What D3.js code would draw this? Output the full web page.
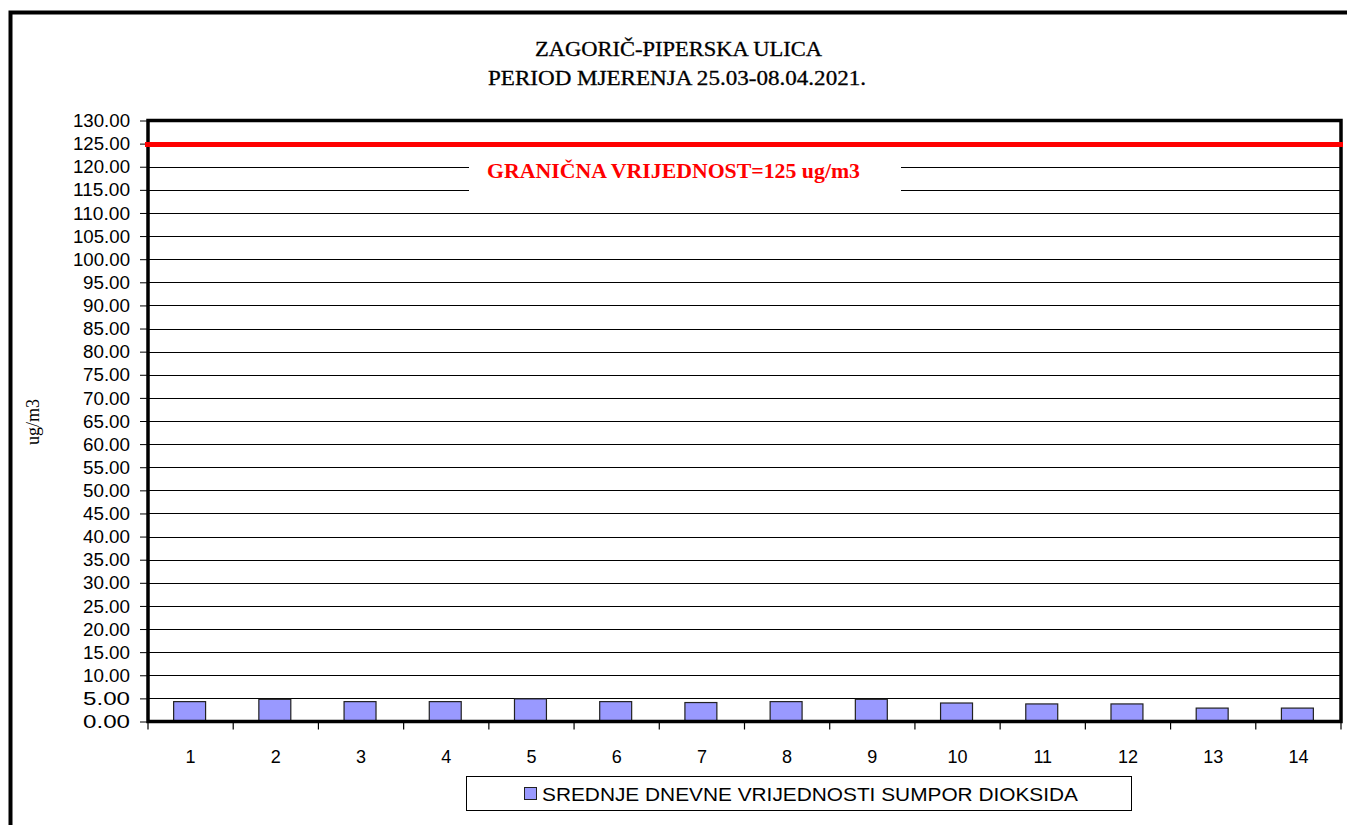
<!DOCTYPE html>
<html><head><meta charset="utf-8">
<script src="https://cdn.jsdelivr.net/npm/d3@7"></script>
<style>body{margin:0;background:#fff;overflow:hidden}</style>
</head><body>
<svg id="c" width="1347" height="825"></svg>
<script>
const categories = ["1","2","3","4","5","6","7","8","9","10","11","12","13","14"];
const values = [4.3, 4.8, 4.3, 4.3, 4.9, 4.3, 4.1, 4.3, 4.8, 4.0, 3.8, 3.8, 2.9, 2.9];
const yTicks = d3.range(0, 130.01, 5);
const limitValue = 125;
const titleLines = ["ZAGORIČ-PIPERSKA ULICA", "PERIOD MJERENJA 25.03-08.04.2021."];
const limitLabel = "GRANIČNA VRIJEDNOST=125 ug/m3";
const seriesName = "SREDNJE DNEVNE VRIJEDNOSTI SUMPOR DIOKSIDA";
const yTitle = "ug/m3";

const svg = d3.select("#c");
const L = 148, R = 1341, T = 120.5, B = 721.5;
const x = d3.scaleBand().domain(categories).range([L, R]);
const y = d3.scaleLinear().domain([0, 130]).range([B, T]);

// outer frame
svg.append("rect").attr("x", 10.5).attr("y", 12.5).attr("width", 1400).attr("height", 900)
  .attr("fill", "none").attr("stroke", "#000").attr("stroke-width", 4);

// title
svg.selectAll("text.title").data(titleLines).enter().append("text")
  .attr("x", (d,i)=> i===0 ? 678.5 : 677).attr("y", (d,i)=> 56 + i*29)
  .attr("text-anchor", "middle").attr("font-family", "Liberation Serif, serif")
  .attr("font-size", 20).attr("stroke", "#000").attr("stroke-width", 0.3)
  .attr("textLength", (d,i)=> i===0 ? 287 : 378)
  .attr("lengthAdjust", "spacingAndGlyphs").text(d=>d);

// gridlines
svg.append("g").selectAll("line").data(yTicks.filter(t=>t>0 && t<130)).enter().append("line")
  .attr("x1", L).attr("x2", R).attr("y1", d=>Math.round(y(d))+0.5).attr("y2", d=>Math.round(y(d))+0.5)
  .attr("stroke", "#000").attr("stroke-width", 1);

// y axis
const yAxis = d3.axisLeft(y).tickValues(yTicks).tickFormat(d3.format(".2f")).tickSize(8).tickPadding(10);
const gy = svg.append("g").attr("transform", `translate(${L},0)`).call(yAxis);
gy.select(".domain").remove();
gy.selectAll(".tick line").attr("stroke", "#000");
gy.selectAll(".tick text").attr("font-family", "Liberation Sans, sans-serif").attr("font-size", 18)
  .attr("fill", "#000").attr("dy", "0.34em");
gy.selectAll(".tick").each(function(d){
  d3.select(this).select("text")
    .attr("textLength", d>=100 ? 57 : 47).attr("lengthAdjust","spacingAndGlyphs");
});

// x axis
const xAxis = d3.axisBottom(x).tickSize(0).tickPadding(29);
const gx = svg.append("g").attr("transform", `translate(0,${B})`).call(xAxis);
gx.select(".domain").remove();
gx.selectAll(".tick text").attr("font-family", "Liberation Sans, sans-serif").attr("font-size", 18).attr("fill", "#000");
svg.append("g").selectAll("line").data(categories.concat(["end"])).enter().append("line")
  .attr("x1", (d,i)=> i<categories.length ? x(d) : R).attr("x2", (d,i)=> i<categories.length ? x(d) : R)
  .attr("y1", B).attr("y2", B+8).attr("stroke", "#000").attr("stroke-width", 1.2);

// bars
const bw = x.bandwidth()*0.375;
svg.append("g").selectAll("rect").data(values).enter().append("rect")
  .attr("x", (d,i)=> x(categories[i]) + x.bandwidth()/2 - bw/2 - 1)
  .attr("y", d=> y(d)).attr("width", bw).attr("height", d=> B - y(d))
  .attr("fill", "#9999ff").attr("stroke", "#222").attr("stroke-width", 1.2);

// plot border
svg.append("rect").attr("x", L).attr("y", T).attr("width", R-L).attr("height", B-T)
  .attr("fill", "none").attr("stroke", "#000").attr("stroke-width", 3.5);

// limit line
svg.append("line").attr("x1", L-3).attr("x2", R+2).attr("y1", y(limitValue)+1).attr("y2", y(limitValue)+1)
  .attr("stroke", "#ff0000").attr("stroke-width", 5);

// limit label
svg.append("rect").attr("x", 469).attr("y", 156).attr("width", 432).attr("height", 36).attr("fill", "#fff");
svg.append("text").attr("x", 487).attr("y", 178).attr("font-family", "Liberation Serif, serif")
  .attr("font-weight", "bold").attr("font-size", 22).attr("fill", "#ff0000")
  .attr("textLength", 373).attr("lengthAdjust", "spacingAndGlyphs").text(limitLabel);

// y title
svg.append("text").attr("transform", "translate(39,422) rotate(-90)").attr("text-anchor", "middle")
  .attr("font-family", "Liberation Serif, serif").attr("font-size", 18).text(yTitle);

// legend
const lg = svg.append("g");
lg.append("rect").attr("x", 466.5).attr("y", 776.5).attr("width", 665).attr("height", 34)
  .attr("fill", "#fff").attr("stroke", "#000").attr("stroke-width", 1);
lg.append("rect").attr("x", 524.5).attr("y", 787.5).attr("width", 12).attr("height", 12)
  .attr("fill", "#9999ff").attr("stroke", "#222").attr("stroke-width", 1);
lg.append("text").attr("x", 542).attr("y", 801).attr("font-family", "Liberation Sans, sans-serif")
  .attr("font-size", 18).attr("textLength", 536).attr("lengthAdjust", "spacingAndGlyphs").text(seriesName);
</script>
</body></html>
